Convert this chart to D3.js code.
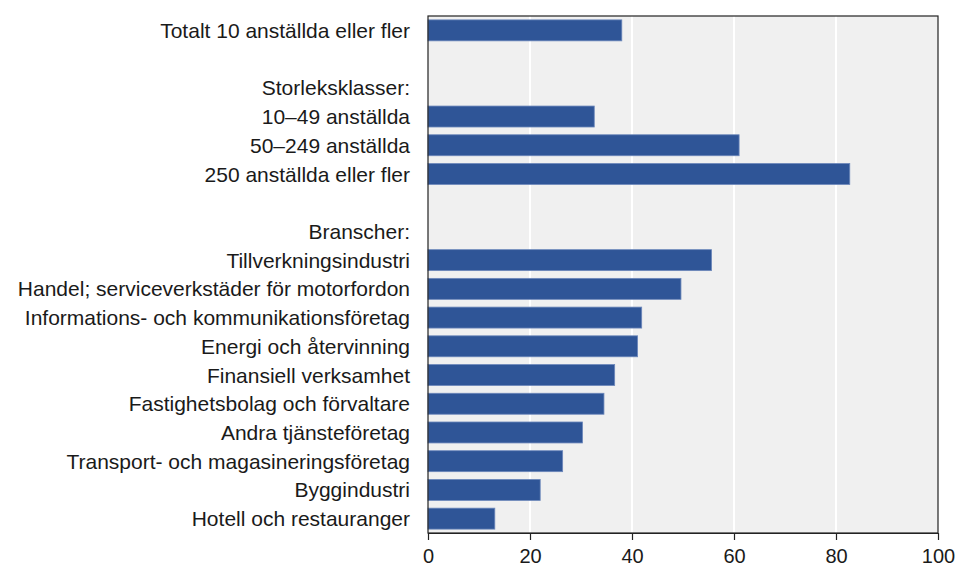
<!DOCTYPE html>
<html>
<head>
<meta charset="utf-8">
<script src="https://cdn.jsdelivr.net/npm/d3@7"></script>
<style>
  body { margin: 0; background: #fff; }
  text { font-family: "Liberation Sans", Arial, sans-serif; fill: #1a1a1a; }
</style>
</head>
<body>
<div id="chart"></div>
<script>
// rows top to bottom, empty strings are spacer rows
var labels = [
    'Totalt 10 anställda eller fler',
    '',
    'Storleksklasser:',
    '10–49 anställda',
    '50–249 anställda',
    '250 anställda eller fler',
    '',
    'Branscher:',
    'Tillverkningsindustri',
    'Handel; serviceverkstäder för motorfordon',
    'Informations- och kommunikationsföretag',
    'Energi och återvinning',
    'Finansiell verksamhet',
    'Fastighetsbolag och förvaltare',
    'Andra tjänsteföretag',
    'Transport- och magasineringsföretag',
    'Byggindustri',
    'Hotell och restauranger'
];
var values = [38.0, null, null, 32.6, 61.0, 82.7, null, null,
    55.6, 49.6, 41.9, 41.1, 36.6, 34.5, 30.3, 26.4, 22.0, 13.1];
var xTicks = [0, 20, 40, 60, 80, 100];

var svgWidth = 957;
var svgHeight = 568;
var margin = { top: 16, right: 19, bottom: 35, left: 428 };
var width = svgWidth - margin.left - margin.right;
var height = svgHeight - margin.top - margin.bottom;

var data = labels.map(function (d, i) {
    return { id: i, label: d, value: values[i] };
});

var svg = d3.select('#chart')
    .append('svg')
    .attr('width', svgWidth)
    .attr('height', svgHeight);

var chartGroup = svg.append('g')
    .attr('transform', `translate(${margin.left}, ${margin.top})`);

var xScale = d3.scaleLinear()
    .domain([0, 100])
    .range([0, width]);

var yScale = d3.scaleBand()
    .domain(data.map(d => d.id))
    .range([0, height])
    .paddingInner(0.27)
    .paddingOuter(0.135);

// plot background
chartGroup.append('rect')
    .attr('width', width)
    .attr('height', height)
    .attr('fill', '#f0f0f0');

// gridlines
chartGroup.selectAll('.grid')
    .data(xTicks.slice(1, -1))
    .enter()
    .append('line')
    .attr('x1', d => xScale(d))
    .attr('x2', d => xScale(d))
    .attr('y1', 0)
    .attr('y2', height)
    .attr('stroke', '#fff')
    .attr('stroke-width', 2);

// bars
chartGroup.selectAll('.bar')
    .data(data.filter(d => d.value != null))
    .enter()
    .append('rect')
    .attr('x', xScale(0))
    .attr('y', d => yScale(d.id))
    .attr('width', d => xScale(d.value) - xScale(0))
    .attr('height', yScale.bandwidth())
    .attr('fill', '#2f5597')
    .attr('stroke', '#6d88bb')
    .attr('stroke-width', 0.8);

// frame
chartGroup.append('rect')
    .attr('width', width)
    .attr('height', height)
    .attr('fill', 'none')
    .attr('stroke', '#222')
    .attr('stroke-width', 1.2);

// x axis
var bottomAxis = d3.axisBottom(xScale)
    .tickValues(xTicks)
    .tickSize(7)
    .tickSizeOuter(0);

var xAxis = chartGroup.append('g')
    .attr('transform', `translate(0, ${height})`)
    .call(bottomAxis);
xAxis.select('.domain').attr('stroke', '#222').attr('stroke-width', 1.2);
xAxis.selectAll('line').attr('stroke', '#222').attr('stroke-width', 1.2);
xAxis.selectAll('text')
    .attr('font-size', '20px')
    .attr('font-family', '"Liberation Sans", Arial, sans-serif')
    .attr('fill', '#1a1a1a')
    .attr('y', 30)
    .attr('dy', null);

// category labels
chartGroup.selectAll('.cat')
    .data(data)
    .enter()
    .append('text')
    .attr('x', -18)
    .attr('y', d => yScale(d.id) + yScale.bandwidth() / 2)
    .attr('dy', '0.36em')
    .attr('text-anchor', 'end')
    .attr('font-size', '21px')
    .text(d => d.label);
</script>
</body>
</html>
